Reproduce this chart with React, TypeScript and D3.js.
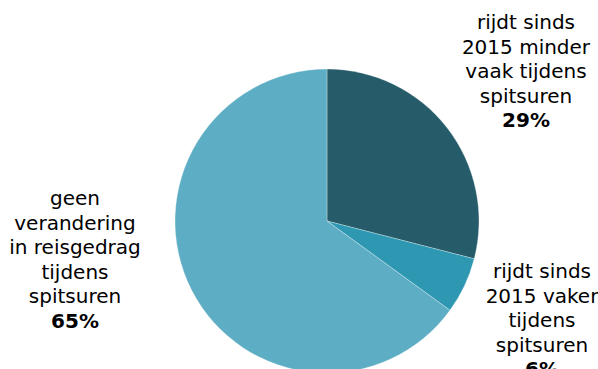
import React from "react";
import * as d3 from "d3";

const categories = [
  "rijdt sinds 2015 minder vaak tijdens spitsuren",
  "rijdt sinds 2015 vaker tijdens spitsuren",
  "geen verandering in reisgedrag tijdens spitsuren",
];
const values = [29, 6, 65];
const labelLines = [
  ["rijdt sinds", "2015 minder", "vaak tijdens", "spitsuren"],
  ["rijdt sinds", "2015 vaker", "tijdens", "spitsuren"],
  ["geen", "verandering", "in reisgedrag", "tijdens", "spitsuren"],
];
const colors = ["#265B69", "#2E98B3", "#5DAEC4"];

const W = 598;
const H = 369;
const cx = 327;
const cy = 221;
const R = 152;
const labelPos = [
  { x: 526, y: 29 },
  { x: 542, y: 278 },
  { x: 75, y: 205 },
];
const FS = 20;
const LH = 24.5;

export default function App() {
  const pie = d3.pie<number>().sort(null).value((d) => d)(values);
  const arc = d3.arc<d3.PieArcDatum<number>>().innerRadius(0).outerRadius(R);
  return (
    <svg
      width={W}
      height={H}
      style={{ position: "absolute", left: 0, top: 0 }}
      fontFamily="Verdana, 'DejaVu Sans', sans-serif"
    >
      <rect width={W} height={H} fill="#fff" />
      <g transform={`translate(${cx},${cy})`}>
        {pie.map((p, i) => (
          <path key={categories[i]} d={arc(p) || ""} fill={colors[i]} stroke="#fff" strokeWidth={0.5} strokeOpacity={0.6} />
        ))}
      </g>
      {labelLines.map((lines, i) => (
        <text key={i} x={labelPos[i].x} y={labelPos[i].y} textAnchor="middle" fontSize={FS} fill="#000">
          {lines.map((l, j) => (
            <tspan key={j} x={labelPos[i].x} y={labelPos[i].y + j * LH}>
              {l}
            </tspan>
          ))}
          <tspan x={labelPos[i].x} y={labelPos[i].y + lines.length * LH} fontWeight="bold">
            {values[i] + "%"}
          </tspan>
        </text>
      ))}
    </svg>
  );
}
